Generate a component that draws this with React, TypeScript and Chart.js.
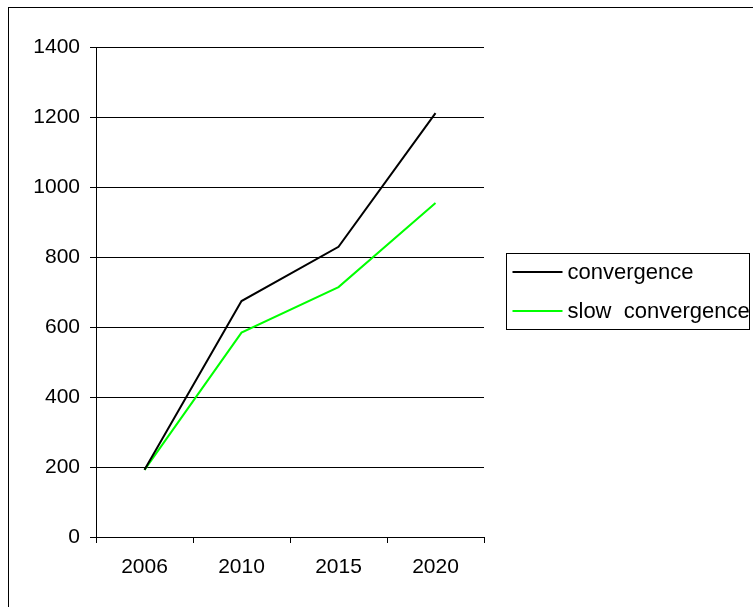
import React, { useEffect, useRef } from "react";
import { Chart, registerables } from "chart.js";

Chart.register(...registerables);

const years = ["2006", "2010", "2015", "2020"];
const convergence = [192, 674, 829, 1211];
const slowConvergence = [192, 584, 714, 954];
const seriesLabels = ["convergence", "slow  convergence"];
const seriesColors = ["#000000", "#00ff00"];
const yMin = 0;
const yMax = 1400;
const yStep = 200;

const FONT = "'Liberation Sans', Arial, sans-serif";
const AXIS_FONT_SIZE = 21;
const LEGEND_FONT_SIZE = 22;

// Outer frame around the whole chart area (runs off the right and bottom edges)
const framePlugin = {
  id: "frame",
  beforeDraw(chart: any) {
    const ctx = chart.ctx;
    ctx.save();
    ctx.fillStyle = "#ffffff";
    ctx.fillRect(0, 0, chart.width, chart.height);
    ctx.strokeStyle = "#000000";
    ctx.lineWidth = 1;
    ctx.strokeRect(8.5, 7.5, chart.width + 20, chart.height + 20);
    ctx.restore();
  },
};

// Boxed legend to the right of the plot
const boxLegendPlugin = {
  id: "boxLegend",
  afterDraw(chart: any) {
    const ctx = chart.ctx;
    const x = 506.5;
    const y = 253.5;
    const w = 243;
    const h = 76;
    const rowGap = 39;
    ctx.save();
    ctx.strokeStyle = "#000000";
    ctx.lineWidth = 1;
    ctx.strokeRect(x, y, w, h);
    ctx.font = `${LEGEND_FONT_SIZE}px ${FONT}`;
    ctx.textBaseline = "middle";
    ctx.textAlign = "left";
    chart.data.datasets.forEach((ds: any, i: number) => {
      const cy = y + 18.5 + i * rowGap;
      ctx.strokeStyle = ds.borderColor;
      ctx.lineWidth = 2;
      ctx.beginPath();
      ctx.moveTo(x + 6, cy);
      ctx.lineTo(x + 56, cy);
      ctx.stroke();
      ctx.fillStyle = "#000000";
      ctx.fillText(ds.label, x + 61, cy + 1);
    });
    ctx.restore();
  },
};

export default function App() {
  const canvasRef = useRef<HTMLCanvasElement | null>(null);

  useEffect(() => {
    if (!canvasRef.current) return;
    const chart = new Chart(canvasRef.current, {
      type: "line",
      data: {
        labels: years,
        datasets: [
          {
            label: seriesLabels[0],
            data: convergence,
            borderColor: seriesColors[0],
            backgroundColor: seriesColors[0],
            borderWidth: 2,
            pointRadius: 0,
            tension: 0,
          },
          {
            label: seriesLabels[1],
            data: slowConvergence,
            borderColor: seriesColors[1],
            backgroundColor: seriesColors[1],
            borderWidth: 2,
            pointRadius: 0,
            tension: 0,
          },
        ],
      },
      options: {
        animation: false,
        responsive: false,
        devicePixelRatio: 1,
        layout: { padding: { left: 0, right: 269, top: 47, bottom: 0 } },
        plugins: {
          legend: { display: false },
          tooltip: { enabled: false },
        },
        scales: {
          x: {
            offset: true,
            grid: {
              offset: true,
              drawOnChartArea: false,
              color: "#000000",
              tickLength: 6,
              lineWidth: 1,
            },
            border: { display: true, color: "#000000", width: 1 },
            ticks: {
              color: "#000000",
              padding: 12,
              font: { family: FONT, size: AXIS_FONT_SIZE },
              maxRotation: 0,
            },
            afterFit(scale: any) {
              scale.height = 70;
            },
          },
          y: {
            min: yMin,
            max: yMax,
            grid: {
              color: "#000000",
              tickLength: 6,
              lineWidth: 1,
            },
            border: { display: true, color: "#000000", width: 1 },
            ticks: {
              stepSize: yStep,
              color: "#000000",
              padding: 10,
              font: { family: FONT, size: AXIS_FONT_SIZE },
              callback: (value: any) => String(value),
            },
            afterFit(scale: any) {
              scale.width = 96;
            },
          },
        },
      },
      plugins: [framePlugin, boxLegendPlugin],
    });
    return () => chart.destroy();
  }, []);

  return (
    <div style={{ position: "fixed", left: 0, top: 0, width: 753, height: 607, background: "#fff" }}>
      <canvas ref={canvasRef} width={753} height={607} style={{ display: "block", width: 753, height: 607 }} />
    </div>
  );
}
